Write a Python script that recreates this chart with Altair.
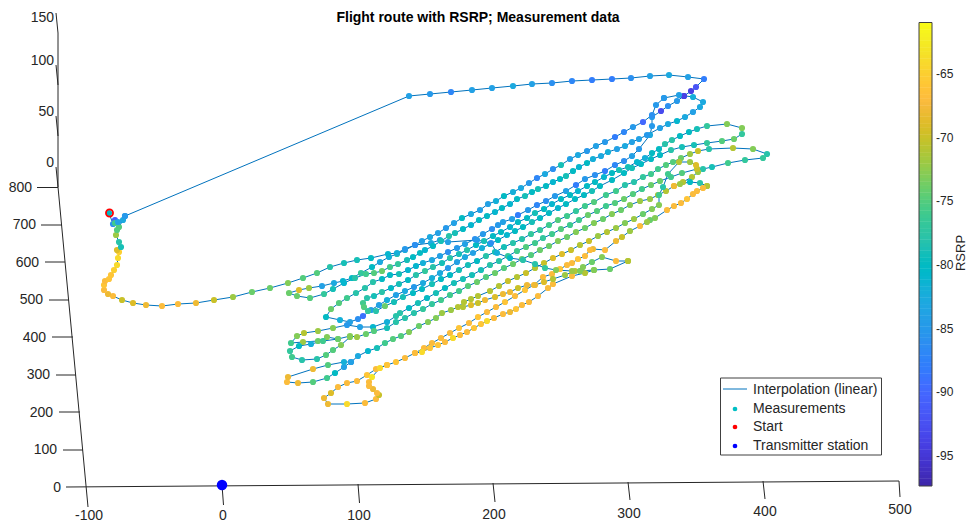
import altair as alt
import pandas as pd
import numpy as np

start_cluster = [(109,213,-80),(113,224,-86),(115,220,-91),(115,223,-76),(119,227,-75),(123,220,-83),(118,222,-84),(125,216,-85)]
arc = [(125,216,-85),(409,96,-84),(430,94,-85),(451,92,-87),(472,90,-84),(492,88,-84),(513,86,-83),(532,84,-84),(552,83,-86),(572,81,-87),(592,80,-88),(612,79,-88),(631,78,-86),(650,76,-84),(669,75,-83),(688,77,-84),(704,79,-88),(696,87,-92),(691,91,-94),(684,96,-94)]
t3_t5 = [(684,96,-94),(677,101,-85),(668,106,-86),(661,111,-93),(652,117,-85),(652,126,-85),(650,135,-83),(639,149,-85),(632,156,-84),(624,161,-86),(615,165,-87),(605,171,-88),(595,175,-86),(585,179,-85),(576,185,-88),(566,191,-84),(555,196,-85),(546,201,-86),(537,205,-87),(528,210,-85),(518,215,-88),(512,219,-84),(503,222,-84),(498,225,-85),(492,229,-86),(483,234,-85),(475,239,-86),(465,244,-84),(457,248,-85),(448,252,-86),(440,256,-84),(432,260,-83),(423,263,-82),(416,266,-81),(408,270,-81),(399,274,-79),(390,275,-80),(382,279,-80),(373,282,-78),(365,288,-78),(356,293,-78),(347,298,-76),(339,303,-75),(331,309,-74),(326,317,-80),(340,320,-82),(350,322,-84),(358,319,-86),(363,316,-89),(371,310,-84),(379,305,-84),(387,300,-82),(396,295,-84),(405,291,-83),(414,287,-85),(423,283,-83),(432,278,-82),(440,273,-83),(448,268,-85),(457,262,-84),(465,257,-83),(473,253,-84),(482,248,-82),(490,244,-81),(498,240,-80),(507,235,-81),(515,231,-80),(523,227,-80),(532,222,-79),(540,218,-80),(549,213,-80),(558,208,-81),(566,204,-80),(575,199,-80),(584,195,-80),(592,191,-79),(600,186,-80),(612,180,-80),(624,173,-80),(632,168,-79),(641,164,-80),(651,159,-80),(660,155,-80),(671,150,-78),(682,147,-79),(694,145,-79),(707,143,-77),(722,141,-75),(734,139,-74),(742,134,-77),(742,128,-73),(727,124,-73),(707,126,-77),(697,129,-79),(689,132,-80),(680,136,-80),(672,140,-78),(665,144,-78),(659,149,-80),(652,153,-80),(645,158,-82),(637,162,-81),(628,167,-79),(619,170,-79),(612,173,-80),(604,177,-81),(595,182,-80),(587,186,-80),(578,191,-81),(570,195,-80),(561,199,-80),(552,204,-81),(544,209,-80),(535,213,-79),(527,218,-80),(518,222,-80),(510,227,-81),(501,232,-80),(493,236,-80),(484,241,-79),(476,245,-80),(467,250,-78),(459,254,-79),(450,258,-78),(442,263,-79),(433,267,-78),(425,271,-77),(416,275,-78),(408,280,-80),(399,284,-79),(391,288,-80),(382,292,-78),(374,296,-79),(367,298,-78),(363,303,-76),(364,307,-75),(368,311,-77),(376,311,-78),(385,306,-74),(394,302,-79),(403,297,-79),(413,293,-80),(422,289,-80),(432,284,-79),(441,279,-80),(450,275,-80),(459,270,-79),(468,265,-79),(477,261,-80),(486,256,-78),(495,252,-79),(504,247,-79),(513,243,-78),(522,239,-78),(531,234,-77),(540,230,-77),(549,225,-76),(558,220,-75),(567,216,-76),(576,211,-77),(585,206,-76),(594,202,-75),(606,195,-76),(616,191,-76),(625,185,-78),(634,182,-78),(643,177,-77),(651,174,-76),(658,169,-76),(666,165,-75),(673,162,-75),(681,158,-74),(690,154,-72),(698,151,-70),(709,149,-78),(733,148,-71),(753,149,-73),(767,154,-78),(763,158,-77),(745,160,-77),(728,163,-76),(712,167,-79),(703,169,-78),(697,169,-76),(682,173,-75),(671,177,-76),(660,181,-74),(651,185,-74),(642,189,-76),(633,194,-75),(624,199,-74),(615,203,-75),(606,206,-76),(597,211,-75),(588,215,-74),(579,220,-76),(570,225,-76),(561,229,-75),(552,234,-76),(543,238,-77),(535,243,-76),(526,247,-75),(517,251,-76),(508,256,-77),(499,261,-78),(490,265,-78),(481,270,-79),(472,275,-79),(463,279,-79),(454,283,-79),(445,288,-80),(436,293,-79),(427,298,-80),(418,303,-79),(409,308,-80),(400,313,-78),(396,316,-78),(387,322,-82),(373,327,-81),(360,327,-84),(347,325,-85),(333,328,-73),(318,331,-72),(304,333,-71),(297,336,-73),(291,343,-76),(303,342,-72),(318,341,-74),(327,337,-73),(338,339,-74),(350,336,-73),(357,337,-72),(366,334,-74),(374,331,-75),(387,328,-79),(396,322,-78),(405,318,-78),(414,313,-78),(423,309,-77),(432,304,-77),(441,300,-76),(450,295,-76),(459,291,-76),(468,286,-75),(477,282,-74),(486,277,-75),(495,273,-74),(504,268,-75),(513,264,-74),(522,259,-74),(531,255,-75),(540,250,-74),(549,246,-74),(558,241,-73),(567,237,-74),(576,232,-73),(585,228,-74),(594,223,-73),(603,219,-74),(612,214,-73),(621,210,-74),(630,205,-73),(640,201,-72),(650,199,-72),(658,195,-71),(666,191,-71),(674,186,-68),(683,182,-71),(692,177,-71),(698,172,-72),(697,169,-70),(696,165,-69),(690,162,-72),(679,162,-71),(668,174,-76),(663,187,-78),(659,195,-76),(659,205,-73),(652,209,-73),(643,214,-74),(634,219,-72),(625,223,-73),(616,228,-72),(607,232,-71),(598,236,-72),(589,241,-70),(580,245,-71),(571,250,-70),(562,254,-69),(553,258,-69),(544,263,-70),(535,268,-71),(526,273,-70),(517,277,-71),(508,281,-70),(499,286,-71),(490,291,-71),(478,296,-71),(471,299,-71),(464,302,-71),(458,307,-71),(451,310,-72),(442,313,-72),(436,318,-73),(428,322,-73),(419,326,-74),(409,332,-73),(401,336,-75),(393,339,-75),(385,343,-76),(377,348,-79),(368,351,-81),(358,356,-83),(351,362,-86),(344,367,-84),(335,373,-80),(327,378,-76),(313,382,-75),(298,383,-68),(287,382,-67),(288,377,-68),(313,369,-68),(328,365,-75),(344,362,-82),(351,362,-84)]
inner_loop = [(350,337,-73),(341,345,-73),(333,350,-75),(326,355,-75),(317,359,-78),(302,360,-78),(292,357,-76),(290,351,-77),(299,346,-80),(311,344,-82),(323,341,-76),(338,339,-74)]
right_link = [(707,186,-71),(700,183,-78),(690,182,-80),(680,184,-72),(674,186,-68)]
t9_loop = [(707,186,-71),(703,188,-67),(697,191,-67),(693,194,-67),(687,199,-66),(681,203,-67),(674,206,-67),(667,210,-67),(655,218,-73),(650,220,-74),(647,222,-72),(640,226,-67),(630,231,-72),(622,237,-70),(616,241,-68),(605,250,-67),(593,249,-68),(590,250,-67),(585,256,-67),(578,259,-66),(572,263,-67),(567,265,-67),(560,269,-66),(552,274,-67),(543,277,-67),(534,285,-67),(525,290,-66),(515,296,-67),(505,302,-66),(496,307,-67),(487,312,-67),(478,317,-66),(469,323,-67),(459,328,-66),(450,333,-67),(441,338,-67),(432,343,-67),(424,348,-67),(415,353,-67),(405,358,-67),(396,362,-66),(387,365,-66),(376,369,-67),(367,375,-66),(357,381,-67),(347,383,-67),(338,387,-67),(331,393,-69),(324,398,-68),(328,404,-68),(347,404,-64),(365,403,-67),(376,399,-67),(379,395,-70),(377,393,-67),(373,389,-68),(369,386,-67),(369,382,-67),(372,377,-63),(380,368,-64),(387,365,-66)]
t10_row = [(594,270,-73),(585,273,-71),(572,276,-67),(553,284,-67),(548,288,-67),(538,296,-67),(529,302,-67),(522,305,-67),(516,309,-66),(510,312,-68),(503,314,-67),(494,318,-67),(487,321,-64),(481,324,-66),(474,328,-66),(467,332,-67),(460,335,-67),(453,338,-64),(445,342,-67),(438,345,-66),(430,348,-66),(422,352,-64),(415,353,-67)]
r_row = [(628,261,-71),(616,261,-67),(602,257,-73),(592,262,-74),(583,267,-73),(575,271,-71),(565,275,-72),(553,279,-71),(544,282,-69),(535,285,-68),(527,285,-68),(518,288,-70),(510,292,-68),(503,294,-68),(495,297,-69),(485,300,-68),(478,303,-70),(471,305,-69),(463,307,-71)]
link = [(628,261,-71),(610,269,-74),(594,270,-73),(580,271,-73),(572,271,-72),(556,270,-73),(545,268,-77),(535,264,-78),(523,260,-78),(510,258,-80),(497,253,-82),(491,243,-86),(477,240,-85),(448,242,-84),(440,240,-84),(431,243,-83),(415,245,-86),(405,250,-82),(397,254,-78),(389,257,-82),(380,262,-83),(372,267,-80),(361,273,-77),(352,278,-80),(343,281,-81),(334,283,-83),(322,286,-84),(309,288,-72),(299,290,-69),(289,293,-74),(297,296,-74),(310,298,-75),(324,294,-77),(333,289,-79),(344,283,-81),(355,278,-78),(366,274,-76),(374,273,-75),(382,271,-74),(390,267,-76),(398,264,-77),(407,260,-79),(413,257,-80),(420,253,-80),(425,250,-81),(433,246,-80),(441,241,-79),(449,236,-78),(455,233,-79),(463,229,-80),(471,225,-81),(479,220,-80),(487,216,-80),(495,212,-81),(502,208,-80),(510,204,-81),(517,199,-80),(525,196,-79),(532,192,-80),(538,189,-79),(546,186,-80),(553,182,-81),(560,179,-80),(566,176,-79),(573,171,-80),(579,167,-81),(587,163,-80),(593,159,-82),(601,156,-83),(608,152,-82),(617,149,-84),(625,146,-83),(632,142,-84),(639,139,-84),(647,135,-85),(660,128,-84),(668,124,-83),(677,121,-81),(685,117,-83),(693,112,-84),(700,107,-83),(703,102,-83),(693,97,-82),(679,95,-84),(664,98,-85)]
t1_return = [(664,98,-85),(656,105,-85),(652,115,-86),(643,122,-90),(633,127,-85),(624,132,-87),(615,137,-88),(605,142,-85),(596,146,-84),(587,151,-85),(578,155,-83),(570,159,-84),(561,165,-79),(553,169,-86),(545,174,-83),(537,178,-87),(529,183,-85),(521,188,-83),(513,192,-82),(504,196,-80),(496,201,-82),(488,204,-84),(480,210,-84),(471,214,-83),(462,218,-80),(454,223,-84),(446,228,-85),(438,233,-84),(430,237,-83),(422,241,-84),(415,245,-86),(405,249,-85),(397,253,-82),(388,254,-81),(371,258,-80),(357,260,-79),(344,263,-79),(330,267,-78),(317,273,-75),(303,278,-75),(288,283,-73),(270,288,-74),(252,292,-74),(233,297,-72),(214,300,-70),(196,303,-68),(178,304,-67),(162,306,-67),(146,305,-68),(133,303,-69),(122,300,-70),(113,296,-67),(108,294,-68),(104,290,-67),(104,285,-66),(105,281,-67),(109,279,-66),(111,275,-66),(114,270,-65),(117,265,-64),(118,258,-64),(119,252,-65),(117,250,-69),(121,247,-79),(119,242,-78),(116,235,-72),(117,230,-75)]
tracks = [start_cluster, arc, t3_t5, inner_loop, right_link, t9_loop, t10_row, r_row, link, t1_return]

# Axes of the 3D box, in the same projected positions
axis_segments = [(66,487,899,481),(88,507,58,187),(58,187,58,33),(58,33,56,13),(58,136,56,116),(58,85,56,65),(58,187,56,167),
                 (223.5,505,222,485),(359.5,503,358,484),(495,502,493,483),(630,500,628,482),(765,499,763,481),(900,497,899,481),
                 (63,450,83,450),(59,412,80,412),(56,375,76,375),(52,337,73,337),(49,300,69,300),(45,262,65,262),(41,225,62,225),(37,187.5,58,187.5)]
x_ticks = [("-100",89,516),("0",223,516),("100",359,516),("200",494,515),("300",629,514),("400",765,512),("500",900,510)]
y_ticks = [("0",61,488),("100",57,450),("200",53,413),("300",50,375),("400",46,338),("500",43,300),("600",39,263),("700",36,225),("800",32,188)]
z_ticks = [("150",54,18),("100",54,61),("50",54,112),("0",54,163)]
cbar_ticks = [-65,-70,-75,-80,-85,-90,-95]
cbar_tick_y = [74,138,201,265,329,392,456]
legend_labels = ["Interpolation (linear)","Measurements","Start","Transmitter station"]
legend_y = [390,409,427,446]
legend_colors = ["#00BFC4","#FF0000","#0000FF"]

parula = [(.2422,.1504,.6603),(.2504,.165,.7076),(.2578,.1818,.7511),(.2647,.1978,.7952),(.2706,.2147,.8364),(.2751,.2342,.871),(.2783,.2559,.8991),(.2803,.2782,.9221),(.2813,.3006,.9414),(.281,.3228,.9579),(.2795,.3447,.9717),(.276,.3667,.9829),(.2699,.3892,.9906),(.2602,.4123,.9952),(.244,.4358,.9988),(.2206,.4603,.9973),(.1963,.4847,.9892),(.1834,.5074,.9798),(.1786,.5289,.9682),(.1764,.5499,.952),(.1687,.5703,.9359),(.154,.5902,.9218),(.146,.6091,.9079),(.138,.6276,.8973),(.1248,.6459,.8883),(.1113,.6635,.8763),(.0952,.6798,.8598),(.0689,.6948,.8394),(.0297,.7082,.8163),(.0036,.7203,.7917),(.0067,.7312,.766),(.0433,.7411,.7394),(.0964,.75,.712),(.1408,.7584,.6842),(.1717,.767,.6554),(.1938,.7758,.6251),(.2161,.7843,.5923),(.247,.7918,.5567),(.2906,.7973,.5188),(.3406,.8008,.4789),(.3909,.8029,.4354),(.4456,.8024,.3909),(.5044,.7993,.348),(.5616,.7942,.3045),(.6174,.7876,.2612),(.672,.7793,.2227),(.7242,.7698,.191),(.7738,.7598,.1646),(.8203,.7498,.1535),(.8634,.7406,.1596),(.9035,.733,.1774),(.9393,.7288,.21),(.9728,.7298,.2394),(.9956,.7434,.2371),(.997,.7659,.2199),(.9952,.7893,.2028),(.9892,.8136,.1885),(.9786,.8386,.1766),(.9676,.8639,.1643),(.961,.889,.1537),(.9597,.9135,.1423),(.9628,.9373,.1265),(.9691,.9606,.1064),(.9769,.9839,.0805)]
parula_hex = ["#%02x%02x%02x" % tuple(int(round(c*255)) for c in rgb) for rgb in parula]
RMIN, RMAX = -97.4, -60.95
dom = [float(v) for v in np.linspace(RMIN, RMAX, len(parula_hex))]
color_scale = alt.Scale(domain=dom, range=parula_hex, interpolate="rgb")

X = alt.Scale(domain=[8, 967], range=[0, 959])
Y = alt.Scale(domain=[8, 524], range=[0, 516])
ex = lambda f="x": alt.X(f + ":Q", scale=X, axis=None)
ey = lambda f="y": alt.Y(f + ":Q", scale=Y, axis=None)
FONT = "Liberation Sans"
INK = "#262626"

rows = []
for i, tr in enumerate(tracks):
    for j, (x, y, v) in enumerate(tr):
        rows.append(dict(track=i, order=j, x=x, y=y, rsrp=v))
df = pd.DataFrame(rows)

lines = alt.Chart(df).mark_line(color="#0072BD", strokeWidth=1).encode(
    x=ex(), y=ey(), detail="track:N", order="order:Q")
points = alt.Chart(df).mark_circle(size=38, opacity=1).encode(
    x=ex(), y=ey(), color=alt.Color("rsrp:Q", scale=color_scale, legend=None))

seg = pd.DataFrame(axis_segments, columns=["x","y","x2","y2"])
axes = alt.Chart(seg).mark_rule(color=INK, strokeWidth=1).encode(
    x=ex(), y=ey(), x2="x2:Q", y2="y2:Q")

def labels(items, align, size=14):
    d = pd.DataFrame(items, columns=["t","x","y"])
    return alt.Chart(d).mark_text(font=FONT, fontSize=size, color=INK, align=align, baseline="middle").encode(
        x=ex(), y=ey(), text="t:N")

title = alt.Chart(pd.DataFrame({"t":["Flight route with RSRP; Measurement data"],"x":[478],"y":[18]})).mark_text(
    font=FONT, fontSize=14, fontWeight="bold", color="#000000", align="center", baseline="middle").encode(
    x=ex(), y=ey(), text="t:N")

start_pt = alt.Chart(pd.DataFrame({"x":[109.5],"y":[213]})).mark_point(
    shape="circle", size=50, filled=False, color="#FF0000", strokeWidth=1.8, opacity=1).encode(x=ex(), y=ey())
tx_pt = alt.Chart(pd.DataFrame({"x":[222],"y":[485]})).mark_circle(
    size=110, color="#0000FF", opacity=1).encode(x=ex(), y=ey())

# Colour bar
edges = np.linspace(RMIN, RMAX, 129)
span = lambda v: 486 - (v - RMIN) * (486 - 22.5) / (RMAX - RMIN)
cb = pd.DataFrame({"v": (edges[:-1] + edges[1:]) / 2, "y": span(edges[:-1]), "y2": span(edges[1:]) - 0.4, "x": 919.0, "x2": 932.0})
cbar = alt.Chart(cb).mark_rect().encode(
    x=ex(), x2="x2:Q", y=ey(), y2="y2:Q", color=alt.Color("v:Q", scale=color_scale, legend=None))
cbox = alt.Chart(pd.DataFrame({"x":[919],"x2":[932],"y":[22.5],"y2":[486]})).mark_rect(
    fill=None, stroke="#404040", strokeWidth=1).encode(x=ex(), x2="x2:Q", y=ey(), y2="y2:Q")
clabels = labels([(str(t), 936, y) for t, y in zip(cbar_ticks, cbar_tick_y)], "left", size=12)
rsrp_t = alt.Chart(pd.DataFrame({"t":["RSRP"],"x":[961],"y":[253]})).mark_text(
    font=FONT, fontSize=13, color=INK, angle=270, align="center", baseline="middle").encode(x=ex(), y=ey(), text="t:N")

# Legend box
lbox = alt.Chart(pd.DataFrame({"x":[720.5],"x2":[881.5],"y":[378],"y2":[455]})).mark_rect(
    fill="#FFFFFF", stroke="#404040", strokeWidth=1).encode(x=ex(), x2="x2:Q", y=ey(), y2="y2:Q")
lline = alt.Chart(pd.DataFrame({"x":[723],"x2":[747],"y":[legend_y[0]-1],"y2":[legend_y[0]-1]})).mark_rule(
    color="#0072BD", strokeWidth=1).encode(x=ex(), x2="x2:Q", y=ey(), y2="y2:Q")
ldots = alt.Chart(pd.DataFrame({"x":[735]*3,"y":legend_y[1:],"c":legend_colors})).mark_circle(size=22, opacity=1).encode(
    x=ex(), y=ey(), color=alt.Color("c:N", scale=None, legend=None))
ltext = labels([(t, 753, y) for t, y in zip(legend_labels, legend_y)], "left")

chart = alt.layer(axes, lines, points, start_pt, tx_pt, labels(x_ticks,"center"), labels(y_ticks,"right"), labels(z_ticks,"right"),
                  title, cbar, cbox, clabels, rsrp_t, lbox, lline, ldots, ltext).resolve_scale(color="independent").properties(
    width=959, height=516, padding=0, autosize=alt.AutoSizeParams(type="none"),
    background="#FFFFFF").configure_view(stroke=None)

chart.save("out.html", embed_options={"renderer": "svg", "actions": False})
